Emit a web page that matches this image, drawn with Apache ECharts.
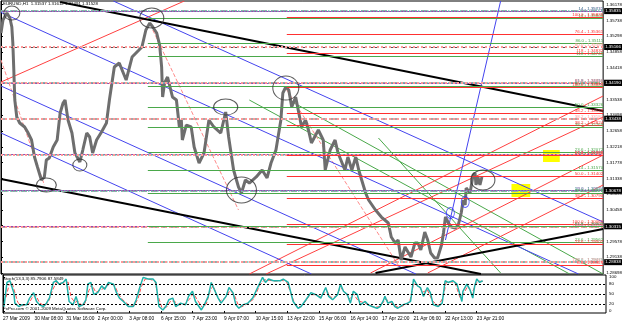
<!DOCTYPE html>
<html>
<head>
<meta charset="utf-8">
<script src="https://cdn.jsdelivr.net/npm/echarts@6/dist/echarts.min.js"></script>
<style>
html, body { margin: 0; padding: 0; background: #fff; }
#chart { width: 625px; height: 323px; }
</style>
</head>
<body>
<div id="chart"></div>
<script>
// EURUSD H1, one unit on the x axis = one hourly bar
var labelBars = [0, 32, 64, 96, 128, 160, 192, 224, 256, 288, 320, 352, 384, 416, 448, 480];
var dateLabels = ['27 Mar 2009', '30 Mar 08:00', '31 Mar 16:00', '2 Apr 00:00', '3 Apr 08:00', '6 Apr 15:00',
    '7 Apr 23:00', '9 Apr 07:00', '10 Apr 15:00', '13 Apr 22:00', '15 Apr 06:00', '16 Apr 14:00',
    '17 Apr 22:00', '21 Apr 06:00', '22 Apr 13:00', '23 Apr 21:00'];

var priceTicks = [1.28698, 1.29138, 1.29578, 1.30018, 1.30458, 1.30898, 1.31338, 1.31778, 1.32218,
    1.32658, 1.33098, 1.33538, 1.33978, 1.34418, 1.34858, 1.35298, 1.35738, 1.36178];
var stochTicks = [0, 20, 50, 80, 100];

// [bar, price]
var price = [[0,1.35389],[2,1.35752],[6,1.35947],[9,1.35808],[11,1.35557],[12,1.35111],[13,1.34358],[14,1.33521],
    [16,1.33047],[19,1.32880],[24,1.32769],[27,1.32629],[31,1.32406],[34,1.31932],[37,1.31653],[41,1.31291],
    [44,1.31375],[46,1.31849],[49,1.31904],[53,1.32211],[57,1.32406],[60,1.33159],[63,1.33438],[65,1.33521],
    [68,1.32964],[72,1.32601],[75,1.32044],[80,1.31793],[83,1.32127],[87,1.32601],[90,1.32490],[93,1.32044],
    [97,1.32406],[102,1.32629],[107,1.32880],[110,1.33521],[115,1.34441],[120,1.34553],[127,1.34079],[133,1.34720],
    [140,1.34915],[143,1.34999],[147,1.35473],[151,1.35668],[154,1.35557],[158,1.35389],[161,1.35055],[163,1.34441],
    [164,1.33605],[166,1.33995],[169,1.34163],[174,1.33605],[178,1.33521],[181,1.32769],[183,1.32964],[184,1.32406],
    [188,1.32824],[193,1.32769],[196,1.32211],[201,1.31765],[206,1.32044],[211,1.32964],[216,1.32769],[223,1.32601],
    [228,1.33187],[231,1.32490],[236,1.31570],[241,1.31096],[244,1.30929],[248,1.31291],[252,1.31207],[259,1.31375],
    [265,1.31570],[270,1.31347],[274,1.31765],[279,1.32127],[284,1.32964],[286,1.33717],[289,1.33884],[292,1.33800],
    [295,1.33326],[299,1.33605],[302,1.33187],[305,1.32769],[309,1.32964],[312,1.32685],[315,1.32323],[322,1.32685],
    [327,1.32406],[329,1.31570],[334,1.32127],[339,1.32406],[342,1.32044],[349,1.31570],[352,1.31932],[356,1.31570],
    [360,1.31932],[363,1.31570],[366,1.31291],[370,1.30929],[373,1.30733],[380,1.30455],[386,1.30259],[393,1.30092],
    [396,1.29702],[400,1.29535],[403,1.29618],[406,1.29061],[410,1.29423],[416,1.29144],[420,1.29535],[423,1.29535],
    [426,1.29339],[430,1.29841],[433,1.29618],[436,1.29256],[440,1.29116],[443,1.29116],[447,1.29479],[449,1.29813],
    [451,1.30259],[454,1.30092],[457,1.29981],[461,1.29953],[464,1.30036],[466,1.29981],[467,1.30371],[469,1.30733],
    [471,1.30594],[472,1.31068],[476,1.30929],[479,1.31430],[481,1.31486],[482,1.31152],[484,1.31375],[486,1.31152],
    [488,1.31375]];

// Stochastic(13,3,3): [bar, value]
var stochMain = [[1,13],[4,84],[7,89],[11,54],[12,23],[16,13],[19,18],[24,18],[27,38],[31,54],[34,28],[37,18],[41,13],
    [44,23],[47,38],[51,84],[54,89],[57,79],[61,84],[64,94],[67,28],[71,18],[74,43],[77,13],[81,18],[84,33],[86,79],
    [89,84],[92,49],[96,54],[100,74],[103,64],[107,84],[112,79],[115,54],[118,38],[122,28],[127,13],[132,13],[135,33],
    [138,64],[142,99],[147,94],[152,94],[155,84],[158,13],[162,3],[165,13],[168,33],[172,38],[175,13],[180,23],[185,18],
    [188,43],[192,58],[195,28],[201,3],[204,18],[208,43],[211,84],[214,64],[218,38],[221,23],[226,43],[229,69],[233,54],
    [236,18],[239,8],[243,18],[248,23],[253,38],[258,69],[263,99],[266,84],[269,94],[274,89],[278,89],[281,89],[284,94],
    [289,84],[294,28],[299,8],[302,13],[307,33],[312,54],[317,48],[322,38],[327,69],[330,43],[334,33],[339,48],[342,79],
    [345,58],[349,48],[352,23],[355,58],[359,48],[362,18],[367,28],[370,18],[374,13],[379,8],[382,13],[385,28],[387,43],
    [390,23],[394,28],[397,13],[400,8],[405,18],[410,23],[413,28],[416,94],[420,74],[423,69],[426,43],[430,69],[433,54],
    [436,18],[441,13],[445,23],[448,89],[451,84],[456,89],[460,79],[465,28],[466,58],[470,79],[473,64],[476,38],[478,74],
    [480,94],[483,84],[486,89]];
var stochSignal = [[3,40],[6,75],[9,85],[13,45],[15,25],[19,15],[26,20],[30,42],[33,48],[37,24],[42,15],[46,26],[50,60],
    [54,84],[58,82],[62,82],[66,85],[69,40],[73,25],[76,30],[79,18],[83,22],[87,60],[90,78],[94,55],[99,62],[104,70],
    [108,80],[113,76],[117,50],[121,34],[128,16],[133,15],[137,38],[140,70],[144,94],[149,93],[154,88],[157,45],[161,10],
    [166,12],[170,30],[174,28],[178,18],[184,20],[189,35],[193,52],[197,32],[202,10],[206,20],[210,60],[213,75],[216,50],
    [220,30],[225,38],[230,60],[234,50],[238,20],[242,12],[248,22],[254,35],[260,75],[265,92],[270,90],[276,88],[282,90],
    [287,88],[292,50],[296,18],[301,12],[306,26],[311,48],[316,48],[322,42],[328,60],[332,40],[337,42],[342,68],[346,58],
    [351,35],[355,50],[360,30],[366,24],[371,18],[376,12],[381,12],[385,24],[388,35],[392,26],[396,18],[401,10],[406,16],
    [412,26],[416,80],[421,76],[425,55],[430,62],[435,30],[441,15],[446,40],[449,84],[453,86],[458,84],[463,40],[467,52],
    [471,74],[475,50],[479,80],[482,88],[486,87]];

// horizontal levels
var levelLightDash = [1.35835, 1.33744, 1.33438, 1.31263, 1.30315, 1.28838];
var levelDarkDash = [1.35166, 1.34190, 1.31458, 1.30678];
var levelPurple = [1.35732, 1.34414, 1.31877, 1.31124, 1.29702];
var levelTeal = [1.35612, 1.34358, 1.32490, 1.30984, 1.29479];
var levelPink = [1.35389, 1.33800, 1.33187, 1.32406, 1.30176, 1.29061];
var namePurple = ['14', '61.8', '14', '23.6', '23.6'];
var nameTeal = ['14', '61.8', '23.6', '50.0', '23.6'];
var namePink = ['80.0', '90.0', '38.2', '23.6', '100.0', '138.2'];
var levelGreen = [1.35808, 1.35111, 1.34748, 1.33912, 1.33326, 1.32769, 1.32072, 1.31570, 1.30929, 1.30009, 1.29562];
var nameGreen = ['14', '86.0', '118', '80.0', '50.0', '38.2', '23.6', '14', '38.2', '61.8', '23.6'];
var levelRed = [1.35835, 1.35361, 1.34832, 1.33884, 1.33159, 1.32824, 1.31988, 1.31402, 1.30790, 1.30065, 1.29507, 1.28921];
var nameRed = ['100.0', '76.4', '118', '100.0', '38.2', '38.2', '61.8', '50.0', '38.2', '100.0', '23.6', '0.0'];
var greenFrom = 149, redFrom = 290;

// trend lines, [bar, price] end points
var blackLines = [[[60,1.36254],[611,1.33215]], [[0,1.31319],[487,1.28670]], [[380,1.28698],[611,1.29925]]];
var blueLines = [[[0,1.35964],[586,1.28670]], [[114,1.36282],[611,1.30120]], [[0,1.33912],[421,1.28670]],
    [[0,1.32601],[315,1.28670]], [[451,1.29618],[507,1.36282]]];
var redLines = [[[0,1.34023],[186,1.36282]], [[375,1.28698],[611,1.31988]], [[433,1.28698],[611,1.31152]],
    [[269,1.28670],[611,1.33047]], [[252,1.28670],[611,1.33633]]];
var pinkLines = [[[0,1.34637],[44,1.31152]], [[154,1.35473],[241,1.30455]], [[290,1.33800],[403,1.28921]]];
var greenLines = [[[252,1.33521],[577,1.28670]], [[292,1.33521],[611,1.28670]], [[383,1.32462],[507,1.28698]]];

var circles = [[11,1.35947],[153,1.35808],[289,1.33856],[228,1.33326],[244,1.31012],[46,1.31152],[80,1.31709],[489,1.31291]];
var circleSize = [[16,14],[24,20],[26,24],[24,16],[30,26],[20,14],[14,12],[24,20]];
var blueCircles = [[456,1.30371],[471,1.30678]];
var yellowBoxes = [[[550,1.32127],[567,1.31793]], [[518,1.31179],[537,1.30817]]];

var X_MAX = 611;
var FONT = 'Liberation Sans';
var FS = 4.4;

function levelLines(levels, color, type, width, fromBar, names) {
    return levels.map(function(v, i) {
        var style = { color: color, type: type, width: width };
        var label = { show: false };
        if (names) {
            label = { show: true, position: 'insideEndTop', formatter: names[i] + ' - ' + v.toFixed(5),
                color: color, fontSize: FS, fontFamily: FONT, distance: 0 };
        }
        if (fromBar == null)
            return { yAxis: v, lineStyle: style, label: label };
        return [{ coord: [fromBar, v], lineStyle: style, label: label }, { coord: [X_MAX, v] }];
    });
}

function boxLines(levels, color, type, width) {
    return levels.map(function(v) {
        return {
            yAxis: v,
            lineStyle: { color: color, type: type, width: width },
            label: { show: true, position: 'end', formatter: v.toFixed(5), backgroundColor: '#000', color: '#fff',
                fontSize: FS, fontFamily: FONT, padding: [1, 1], distance: 1 }
        };
    });
}

function trendSeries(lines, color, type, width) {
    return lines.map(function(pts) {
        return { type: 'line', data: pts, symbol: 'none', silent: true, z: 3,
            lineStyle: { color: color, type: type, width: width } };
    });
}

var myChart = echarts.init(document.getElementById('chart'));

var series = [];

series.push({
    type: 'line', data: [], silent: true, z: 1,
    markLine: {
        silent: true, symbol: 'none', animation: false,
        data: [].concat(
            boxLines(levelLightDash, '#a8a8a8', [6, 4], 2),
            boxLines(levelDarkDash, '#555', [6, 4], 1),
            levelLines(levelPurple, '#a040b0', 'solid', 1, null, namePurple),
            levelLines(levelTeal, '#66c0b0', 'dotted', 1.5, null, nameTeal),
            levelLines(levelPink, '#ff9a9a', 'dotted', 2, null, namePink),
            levelLines(levelGreen, '#4aa84a', 'solid', 1, greenFrom, nameGreen),
            levelLines(levelRed, '#ff3030', 'solid', 1, redFrom, nameRed)
        )
    },
    markArea: {
        silent: true,
        itemStyle: { color: '#ffff00' },
        data: yellowBoxes.map(function(b) { return [{ coord: b[0] }, { coord: b[1] }]; })
    }
});

series = series.concat(
    trendSeries(greenLines, '#4aa84a', 'solid', 1),
    trendSeries(pinkLines, '#ff8a8a', 'dashed', 1),
    trendSeries(redLines, '#ff4040', 'solid', 1),
    trendSeries(blueLines, '#4444ee', 'solid', 1),
    trendSeries(blackLines, '#000', 'solid', 2)
);

series.push({
    type: 'line', data: price, symbol: 'none', silent: true, z: 4,
    lineStyle: { color: '#6e6e6e', width: 3 }
});

series.push({
    type: 'scatter', data: circles, silent: true, z: 5,
    symbolSize: function(v, p) { return circleSize[p.dataIndex]; },
    itemStyle: { color: 'rgba(0,0,0,0)', borderColor: '#333', borderWidth: 1 }
});
series.push({
    type: 'scatter', data: blueCircles, silent: true, z: 5, symbolSize: [8, 11],
    itemStyle: { color: 'rgba(0,0,0,0)', borderColor: '#3333ff', borderWidth: 1 }
});

series.push({
    type: 'line', data: stochSignal, xAxisIndex: 1, yAxisIndex: 1, symbol: 'none', silent: true,
    lineStyle: { color: '#ff5050', width: 1, type: 'dashed' }
});
series.push({
    type: 'line', data: stochMain, xAxisIndex: 1, yAxisIndex: 1, symbol: 'none', silent: true,
    lineStyle: { color: '#20b2aa', width: 1.5 },
    markLine: {
        silent: true, symbol: 'none', animation: false, label: { show: false },
        lineStyle: { color: '#000', type: [2, 2], width: 1 },
        data: [{ yAxis: 20 }, { yAxis: 50 }, { yAxis: 80 }]
    }
});

var option = {
    animation: false,
    backgroundColor: '#fff',
    textStyle: { fontFamily: FONT },
    grid: [
        { left: 1, right: 19, top: 1, height: 273, show: true, borderColor: '#000', borderWidth: 1 },
        { left: 1, right: 19, top: 275, height: 38, show: true, borderColor: '#000', borderWidth: 1 }
    ],
    xAxis: [
        { type: 'value', gridIndex: 0, min: 0, max: X_MAX, show: false },
        {
            type: 'value', gridIndex: 1, min: 0, max: X_MAX,
            axisLine: { show: false }, splitLine: { show: false },
            axisTick: { show: true, customValues: labelBars, length: 2, lineStyle: { color: '#000' } },
            axisLabel: {
                customValues: labelBars, align: 'left', fontSize: 4.8, color: '#000', margin: 3,
                formatter: function(v) { return dateLabels[labelBars.indexOf(v)]; }
            }
        }
    ],
    yAxis: [
        {
            type: 'value', gridIndex: 0, position: 'right', min: 1.28670, max: 1.36282,
            splitLine: { show: false },
            axisLine: { show: true, lineStyle: { color: '#000' } },
            axisTick: { show: true, customValues: priceTicks, length: 2, lineStyle: { color: '#000' } },
            axisLabel: { customValues: priceTicks, fontSize: FS, color: '#000', margin: 3,
                formatter: function(v) { return v.toFixed(5); } }
        },
        {
            type: 'value', gridIndex: 1, position: 'right', min: -6, max: 106,
            splitLine: { show: false },
            axisLine: { show: true, lineStyle: { color: '#000' } },
            axisTick: { show: true, customValues: stochTicks, length: 2, lineStyle: { color: '#000' } },
            axisLabel: { customValues: stochTicks, fontSize: FS, color: '#000', margin: 3 }
        }
    ],
    graphic: [
        { type: 'text', left: 3, top: 2, style: { text: 'EURUSD,H1  1.31537 1.31612 1.31491 1.31528', fontSize: FS, fontFamily: FONT, fill: '#000' } },
        { type: 'text', left: 3, top: 277, style: { text: 'Stoch(13,3,3) 85.7906 87.5849', fontSize: FS, fontFamily: FONT, fill: '#000' } },
        { type: 'text', left: 3, top: 307, style: { text: 'FxPro.com \u00a9 2001-2009 MetaQuotes Software Corp.', fontSize: FS, fontFamily: FONT, fill: '#000' } }
    ],
    series: series
};

myChart.setOption(option);
</script>
</body>
</html>
